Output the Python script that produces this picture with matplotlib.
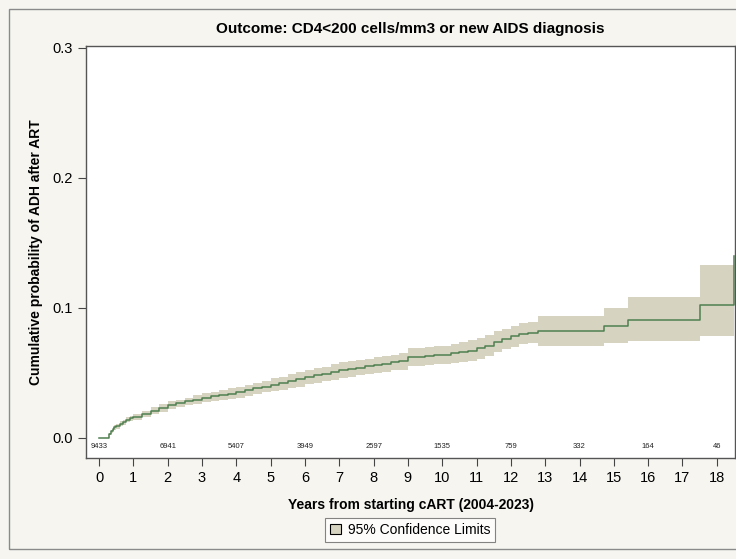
import matplotlib
matplotlib.use('Agg')
import matplotlib.pyplot as plt
from matplotlib.patches import Rectangle, Patch

plt.rcParams['font.family'] = ['Liberation Sans', 'DejaVu Sans']

# cumulative incidence (step function)
years = [0.0, 0.3, 0.35, 0.4, 0.45, 0.5, 0.6, 0.7, 0.8, 0.9,
         1.0, 1.25, 1.5, 1.75, 2.0, 2.25, 2.5, 2.75, 3.0, 3.25,
         3.5, 3.75, 4.0, 4.25, 4.5, 4.75, 5.0, 5.25, 5.5, 5.75,
         6.0, 6.25, 6.5, 6.75, 7.0, 7.25, 7.5, 7.75, 8.0, 8.25,
         8.5, 8.75, 9.0, 9.25, 9.5, 9.75, 10.0, 10.25, 10.5, 10.75,
         11.0, 11.25, 11.5, 11.75, 12.0, 12.25, 12.5, 12.8, 14.7, 15.4,
         17.5, 18.5]
cif = [0.0, 0.003, 0.005, 0.007, 0.008, 0.009, 0.011, 0.012, 0.014, 0.015,
       0.016, 0.0185, 0.021, 0.023, 0.025, 0.0265, 0.028, 0.0295, 0.031, 0.032,
       0.033, 0.034, 0.035, 0.0365, 0.038, 0.0395, 0.041, 0.042, 0.0435, 0.045,
       0.047, 0.048, 0.049, 0.0505, 0.052, 0.053, 0.054, 0.055, 0.056, 0.057,
       0.058, 0.059, 0.062, 0.0625, 0.063, 0.0635, 0.064, 0.065, 0.066, 0.067,
       0.069, 0.071, 0.074, 0.076, 0.078, 0.080, 0.081, 0.082, 0.086, 0.091,
       0.102, 0.140]
lower = [0.0, 0.002, 0.004, 0.005, 0.006, 0.007, 0.009, 0.010, 0.012, 0.013,
         0.0135, 0.016, 0.018, 0.020, 0.022, 0.0235, 0.025, 0.026, 0.0275, 0.0285,
         0.0295, 0.030, 0.031, 0.032, 0.0335, 0.035, 0.036, 0.037, 0.038, 0.0395,
         0.0415, 0.0425, 0.0435, 0.0445, 0.046, 0.047, 0.048, 0.049, 0.050, 0.051,
         0.052, 0.0525, 0.055, 0.0555, 0.056, 0.0565, 0.057, 0.0575, 0.058, 0.059,
         0.061, 0.063, 0.066, 0.068, 0.070, 0.072, 0.073, 0.071, 0.073, 0.0745,
         0.078, 0.100]
upper = [0.0, 0.004, 0.006, 0.008, 0.010, 0.011, 0.013, 0.014, 0.016, 0.017,
         0.0185, 0.021, 0.024, 0.026, 0.028, 0.0295, 0.031, 0.033, 0.0345, 0.0355,
         0.0365, 0.038, 0.039, 0.041, 0.0425, 0.044, 0.046, 0.047, 0.049, 0.0505,
         0.0525, 0.0535, 0.0545, 0.0565, 0.058, 0.059, 0.060, 0.061, 0.062, 0.063,
         0.064, 0.0655, 0.069, 0.0695, 0.070, 0.0705, 0.071, 0.0725, 0.074, 0.075,
         0.077, 0.079, 0.082, 0.084, 0.086, 0.088, 0.089, 0.094, 0.100, 0.108,
         0.133, 0.180]

risk_years = [0, 2, 4, 6, 8, 10, 12, 14, 16, 18]
at_risk = [9433, 6941, 5407, 3949, 2597, 1535, 759, 332, 164, 46]

band_color = '#d6d3c1'
line_color = '#4f7f4f'

fig = plt.figure(figsize=(7.36, 5.59), dpi=100)
fig.patch.set_facecolor('#f6f5f0')
fig.patches.append(Rectangle((9 / 736, 10 / 559), 1.0, 540 / 559,
                             transform=fig.transFigure, fill=False,
                             edgecolor='#8a8a8a', linewidth=1.0))

ax = fig.add_axes([86 / 736, 1 - 458 / 559, 649 / 736, 412 / 559])
ax.set_facecolor('white')

ax.fill_between(years, lower, upper, step='post', color=band_color,
                linewidth=0, label='95% Confidence Limits')
ax.step(years, cif, where='post', color=line_color, linewidth=1.1)

ax.set_xlim(-0.38, 18.53)
ax.set_ylim(-0.0155, 0.3015)
ax.set_xticks(range(0, 19))
ax.set_yticks([0.0, 0.1, 0.2, 0.3])
ax.set_yticklabels(['0.0', '0.1', '0.2', '0.3'])
ax.tick_params(direction='out', length=6, width=0.8, labelsize=10.5,
               color='#444444')
for s in ax.spines.values():
    s.set_color('#555555')
    s.set_linewidth(1.0)

for yr, n in zip(risk_years, at_risk):
    ax.text(yr, 0.027, str(n), transform=ax.get_xaxis_transform(),
            ha='center', va='center', fontsize=5.5, color='#222222')

ax.set_title('Outcome: CD4<200 cells/mm3 or new AIDS diagnosis',
             fontsize=11, fontweight='bold', pad=9)
ax.set_xlabel('Years from starting cART (2004-2023)', fontsize=10,
              fontweight='bold', labelpad=9)
ax.set_ylabel('Cumulative probability of ADH after ART', fontsize=10,
              fontweight='bold', labelpad=7)

handle = Patch(facecolor=band_color, edgecolor='black', linewidth=0.8)
leg = fig.legend([handle], ['95% Confidence Limits'], loc='center',
                 bbox_to_anchor=(410 / 736, 1 - 530 / 559), fontsize=10,
                 frameon=True, fancybox=False, handlelength=0.8,
                 handleheight=0.8, handletextpad=0.5, borderpad=0.35)
leg.get_frame().set_edgecolor('#666666')
leg.get_frame().set_linewidth(0.8)

fig.savefig('out.png', dpi=100, facecolor=fig.get_facecolor())
